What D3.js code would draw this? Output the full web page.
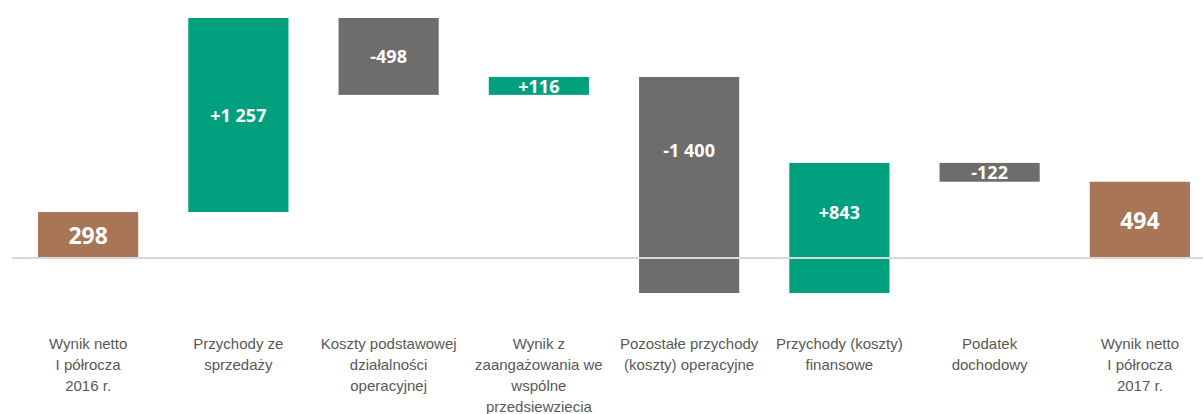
<!DOCTYPE html>
<html><head><meta charset="utf-8">
<script src="https://cdn.jsdelivr.net/npm/d3@7"></script>
<style>
html,body{margin:0;padding:0;background:#fff;}
svg{display:block;}
</style></head>
<body>
<svg id="chart" width="1203" height="414"></svg>
<script>
const categories = [
  ["Wynik netto","I półrocza","2016 r."],
  ["Przychody ze","sprzedaży"],
  ["Koszty podstawowej","działalności","operacyjnej"],
  ["Wynik z","zaangażowania we","wspólne","przedsiewziecia"],
  ["Pozostałe przychody","(koszty) operacyjne"],
  ["Przychody (koszty)","finansowe"],
  ["Podatek","dochodowy"],
  ["Wynik netto","I półrocza","2017 r."]
];
const values = [298, 1257, -498, 116, -1400, 843, -122, 494];
const kinds = ["total","delta","delta","delta","delta","delta","delta","total"];
const valueLabels = ["298","+1 257","-498","+116","-1 400","+843","-122","494"];
// value (on the y scale) at which each label is centred
const labelAt = [149, 926, 1306, 1115, 700, 300, 555, 247];

const colors = {total:"#a87556", up:"#00a07f", down:"#6d6d6d"};

let run = 0;
const segs = values.map((v,i)=>{
  let y0,y1,type;
  if(kinds[i]==="total"){ y0=0; y1=v; run=v; type="total"; }
  else { y0=run; y1=run+v; run=y1; type = v>=0?"up":"down"; }
  return {i, y0, y1, type, label:valueLabels[i], at:labelAt[i]};
});

const svg = d3.select("#chart");
const x = d3.scaleBand().domain(d3.range(categories.length)).range([13,1215]).paddingInner(1/3).paddingOuter(1/6);
const y = d3.scaleLinear().domain([-227,1555]).range([293,18]);

svg.append("g").selectAll("rect").data(segs).join("rect")
  .attr("x", d=>x(d.i))
  .attr("width", x.bandwidth())
  .attr("y", d=>y(Math.max(d.y0,d.y1)))
  .attr("height", d=>Math.abs(y(d.y0)-y(d.y1)))
  .attr("fill", d=>colors[d.type]);

svg.append("line")
  .attr("x1",12).attr("x2",1203)
  .attr("y1",y(0)).attr("y2",y(0))
  .attr("stroke","#d9d9d9").attr("stroke-width",2);

svg.append("g").selectAll("text").data(segs).join("text")
  .attr("x", d=>x(d.i)+x.bandwidth()/2)
  .attr("y", d=>y(d.at))
  .attr("text-anchor","middle")
  .attr("dominant-baseline","central")
  .attr("fill","#fff")
  .attr("font-family","'Open Sans', sans-serif")
  .attr("font-weight","bold")
  .attr("font-size", d=>d.type==="total"?23:18)
  .text(d=>d.label);

const axis = svg.append("g").attr("transform","translate(0,333)")
  .call(d3.axisBottom(x).tickSize(0).tickFormat(""));
axis.select(".domain").remove();
axis.selectAll(".tick").each(function(i){
  const t = d3.select(this).select("text");
  t.attr("y",0).attr("dy",null)
   .attr("fill","#595959")
   .attr("font-family","'Liberation Sans', Arial, sans-serif")
   .attr("font-size",15);
  categories[i].forEach((line,k)=>{
    t.append("tspan").attr("x",0).attr("y",16+k*21).text(line);
  });
});
</script>
</body></html>
